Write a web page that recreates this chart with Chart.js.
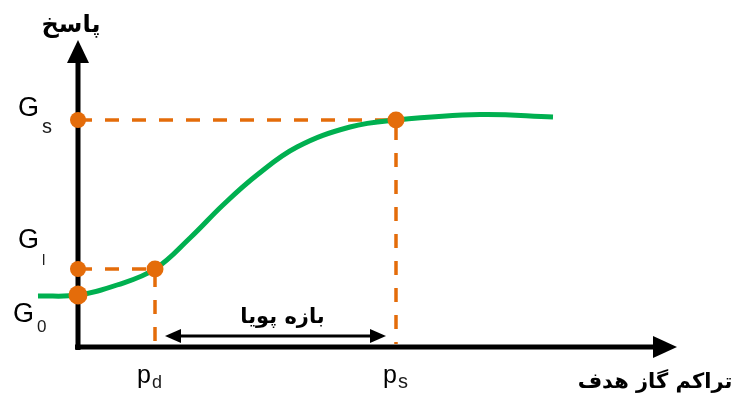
<!DOCTYPE html>
<html>
<head>
<meta charset="utf-8">
<script src="https://cdn.jsdelivr.net/npm/chart.js@4/dist/chart.umd.min.js"></script>
<style>
  html, body { margin: 0; padding: 0; background: #fff; }
  #wrap { width: 734px; height: 397px; }
</style>
</head>
<body>
<div id="wrap"><canvas id="c"></canvas></div>
<script>
// Sensor response curve versus target gas concentration (arbitrary units)
const concentration = [-4.0, 0, 3.9, 7.7, 11.2, 14.5, 17.9, 21.9, 27.2, 31.8, 40.2, 47.5];
const response      = [5.1, 5.2, 6.2, 7.8, 10.9, 14.2, 17.2, 20.0, 22.0, 22.7, 23.25, 23.0];

// Characteristic levels on the response axis
const responseLevels = [5.2, 7.8, 22.7];           // G0, Gl, Gs
const responseLevelNames = [['G', '0'], ['G', 'l'], ['G', 's']];

// Characteristic concentrations
const concLevels = [7.7, 31.8];                    // pd, ps
const concLevelNames = [['p', 'd'], ['p', 's']];

// Axis extents (data units)
const xAxisRange = [-0.3, 59.9];
const yAxisRange = [-0.3, 30.7];
const rangeArrowY = 1.1;

const yTitle = 'پاسخ';
const xTitle = 'تراکم گاز هدف';
const rangeTitle = 'بازه پویا';

const GREEN = '#00b050';
const ORANGE = '#e46c0a';

const G0 = responseLevels[0], Gl = responseLevels[1], Gs = responseLevels[2];
const pd = concLevels[0], ps = concLevels[1];

// label placement (pixel offsets from the axis origin column / level row)
const gLabelStyle = [
  { gx: -65, gy: 27, gSize: 27, sx: -41, sy: 37, sSize: 17 },
  { gx: -60, gy: -21, gSize: 27, sx: -36, sy: -4, sSize: 15 },
  { gx: -60, gy: -4, gSize: 27, sx: -36, sy: 13, sSize: 20 }
];
const pLabelStyle = [
  { px: -18, py: 36, pSize: 25, sx: -3, sy: 41, sSize: 18 },
  { px: -13, py: 36, pSize: 25, sx: 2, sy: 41, sSize: 20 }
];

const drawingPlugin = {
  id: 'schematicAxes',
  beforeDatasetsDraw(chart) {
    const { ctx, scales: { x, y } } = chart;
    ctx.save();
    ctx.strokeStyle = '#000';
    ctx.fillStyle = '#000';
    ctx.lineWidth = 5;
    const ox = x.getPixelForValue(0), oy = y.getPixelForValue(0);
    // vertical axis
    const yTop = y.getPixelForValue(yAxisRange[1]);
    const yBot = y.getPixelForValue(yAxisRange[0]);
    ctx.beginPath();
    ctx.moveTo(ox, yBot);
    ctx.lineTo(ox, yTop + 20);
    ctx.stroke();
    ctx.beginPath();
    ctx.moveTo(ox, yTop);
    ctx.lineTo(ox - 11, yTop + 23);
    ctx.lineTo(ox + 11, yTop + 23);
    ctx.closePath();
    ctx.fill();
    // horizontal axis
    const xL = x.getPixelForValue(xAxisRange[0]);
    const xR = x.getPixelForValue(xAxisRange[1]);
    ctx.beginPath();
    ctx.moveTo(xL, oy);
    ctx.lineTo(xR - 20, oy);
    ctx.stroke();
    ctx.beginPath();
    ctx.moveTo(xR, oy);
    ctx.lineTo(xR - 24, oy - 11);
    ctx.lineTo(xR - 24, oy + 11);
    ctx.closePath();
    ctx.fill();
    ctx.restore();
  },
  afterDraw(chart) {
    const { ctx, scales: { x, y } } = chart;
    const ox = x.getPixelForValue(0), oy = y.getPixelForValue(0);
    ctx.save();
    // dynamic range double arrow
    const ay = y.getPixelForValue(rangeArrowY);
    const a1 = x.getPixelForValue(pd) + 10;
    const a2 = x.getPixelForValue(ps) - 10;
    ctx.strokeStyle = '#000';
    ctx.fillStyle = '#000';
    ctx.lineWidth = 3;
    ctx.beginPath();
    ctx.moveTo(a1 + 10, ay);
    ctx.lineTo(a2 - 10, ay);
    ctx.stroke();
    ctx.beginPath();
    ctx.moveTo(a1, ay); ctx.lineTo(a1 + 16, ay - 7); ctx.lineTo(a1 + 16, ay + 7); ctx.closePath(); ctx.fill();
    ctx.beginPath();
    ctx.moveTo(a2, ay); ctx.lineTo(a2 - 16, ay - 7); ctx.lineTo(a2 - 16, ay + 7); ctx.closePath(); ctx.fill();

    // Persian titles
    ctx.textBaseline = 'alphabetic';
    ctx.textAlign = 'center';
    ctx.direction = 'rtl';
    ctx.font = 'bold 24px "DejaVu Sans"';
    ctx.fillText(yTitle, ox - 7, y.getPixelForValue(yAxisRange[1]) - 8);
    ctx.font = 'bold 21px "DejaVu Sans"';
    ctx.fillText(xTitle, 655, oy + 41);
    ctx.font = 'bold 21px "DejaVu Sans"';
    ctx.fillText(rangeTitle, (a1 + a2) / 2 + 7, ay - 13);
    ctx.direction = 'ltr';

    // level labels on the response axis
    ctx.textAlign = 'left';
    responseLevels.forEach((v, i) => {
      const py = y.getPixelForValue(v);
      const s = gLabelStyle[i];
      ctx.fillStyle = '#000';
      ctx.font = s.gSize + 'px "Liberation Sans"';
      ctx.fillText(responseLevelNames[i][0], ox + s.gx, py + s.gy);
      ctx.fillStyle = '#1a1a1a';
      ctx.font = s.sSize + 'px "Liberation Sans"';
      ctx.fillText(responseLevelNames[i][1], ox + s.sx, py + s.sy);
    });
    // concentration labels
    concLevels.forEach((v, i) => {
      const px = x.getPixelForValue(v);
      const s = pLabelStyle[i];
      ctx.fillStyle = '#000';
      ctx.font = s.pSize + 'px "Liberation Sans"';
      ctx.fillText(concLevelNames[i][0], px + s.px, oy + s.py);
      ctx.fillStyle = '#1a1a1a';
      ctx.font = s.sSize + 'px "Liberation Sans"';
      ctx.fillText(concLevelNames[i][1], px + s.sx, oy + s.sy);
    });
    ctx.restore();
  }
};

const curve = concentration.map((c, i) => ({ x: c, y: response[i] }));

new Chart(document.getElementById('c'), {
  type: 'scatter',
  data: {
    datasets: [
      {
        label: 'markers',
        data: [
          { x: 0, y: G0 }, { x: 0, y: Gl }, { x: pd, y: Gl }, { x: 0, y: Gs }, { x: ps, y: Gs }
        ],
        pointRadius: [9.5, 8, 8.5, 8, 8.5],
        pointBackgroundColor: ORANGE,
        pointBorderWidth: 0,
        showLine: false,
        order: 0
      },
      {
        label: 'response',
        data: curve,
        showLine: true,
        borderColor: GREEN,
        borderWidth: 5,
        pointRadius: 0,
        tension: 0.4,
        order: 1
      },
      {
        label: 'Gs guide',
        data: [{ x: 0, y: Gs }, { x: ps, y: Gs }, { x: ps, y: 0.3 }],
        showLine: true,
        borderColor: ORANGE,
        borderWidth: 3.5,
        borderDash: [14, 13],
        pointRadius: 0,
        order: 2
      },
      {
        label: 'Gl guide',
        data: [{ x: 0, y: Gl }, { x: pd, y: Gl }, { x: pd, y: 0.6 }],
        showLine: true,
        borderColor: ORANGE,
        borderWidth: 3.5,
        borderDash: [14, 13],
        pointRadius: 0,
        order: 2
      }
    ]
  },
  options: {
    responsive: true,
    maintainAspectRatio: false,
    animation: false,
    layout: { padding: 0, autoPadding: false },
    plugins: { legend: { display: false }, tooltip: { enabled: false } },
    elements: { line: { borderCapStyle: 'butt' } },
    scales: {
      x: { type: 'linear', display: false, min: -7.8, max: 65.6 },
      y: { type: 'linear', display: false, min: -5, max: 34.7 }
    }
  },
  plugins: [drawingPlugin]
});
</script>
</body>
</html>
